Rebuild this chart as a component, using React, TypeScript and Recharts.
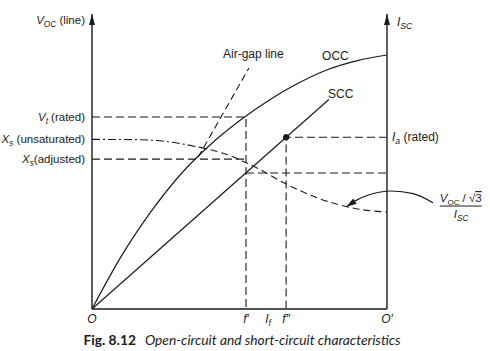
import React from 'react';
import { ComposedChart, Line, XAxis, YAxis, ReferenceLine, ReferenceDot } from 'recharts';

// field current on x (O = 0, O' = 100), voltage / current on y (0..100 = axis top)
const occ = [
  { x: 0, y: 0 }, { x: 10, y: 18 }, { x: 20, y: 33 }, { x: 30, y: 45.6 }, { x: 40, y: 55.6 },
  { x: 50, y: 63.8 }, { x: 60, y: 70.8 }, { x: 70, y: 76.6 }, { x: 80, y: 81.2 },
  { x: 90, y: 84.2 }, { x: 100, y: 86.1 },
];
const airGap = [{ x: 36, y: 51.5 }, { x: 53.2, y: 81.7 }];
const scc = [{ x: 0, y: 0 }, { x: 80.3, y: 71 }];
const ratedPoint = [{ x: 65.8, y: 58.2 }];

// Voc/sqrt3 / Isc curve: dash-dot part, then dashed part
const xsUnsat = [{ x: 0, y: 57.5 }, { x: 15, y: 57.4 }, { x: 25, y: 56.8 }, { x: 36.6, y: 54.8 }];
const xsTail = [
  { x: 36.6, y: 54.8 }, { x: 45, y: 52.6 }, { x: 55, y: 48.3 }, { x: 65, y: 42.8 },
  { x: 75, y: 38.2 }, { x: 85, y: 35 }, { x: 92, y: 33.6 }, { x: 100, y: 32.9 },
];

const vtRated = [{ x: 0, y: 65.1 }, { x: 52.2, y: 65.1 }, { x: 52.2, y: 0 }];
const xsAdjusted = [{ x: 0, y: 50.8 }, { x: 52.2, y: 50.8 }];
const sccAtF1 = [{ x: 52.2, y: 46.1 }, { x: 100, y: 46.1 }];
const iaRated = [{ x: 100, y: 58.2 }, { x: 65.8, y: 58.2 }, { x: 65.8, y: 0 }];
const pointer = [
  { x: 86.3, y: 34.7 }, { x: 89.7, y: 36.9 }, { x: 94.2, y: 38.8 },
  { x: 101.4, y: 40 }, { x: 108.9, y: 39.1 }, { x: 115.6, y: 36 },
];

type Rich = { main: string; sub?: string; rest?: string };

const xTicks = [0, 52.2, 59.7, 65.8, 100];
const xTickLabels: Rich[] = [
  { main: 'O' }, { main: 'f′' }, { main: 'I', sub: 'f' }, { main: 'f″' }, { main: 'O′' },
];
const yTicks = [65.1, 57.5, 50.8];
const yTickLabels: Rich[] = [
  { main: 'V', sub: 't', rest: ' (rated)' },
  { main: 'X', sub: 's', rest: ' (unsaturated)' },
  { main: 'X', sub: 's', rest: '(adjusted)' },
];

const INK = '#1b1b1b';
const SANS = '"Liberation Sans", Arial, sans-serif';

function RichText({ x, y, t, anchor = 'start', size = 11.5 }: { x: number; y: number; t: Rich; anchor?: string; size?: number }) {
  return (
    <text x={x} y={y} textAnchor={anchor as any} fontSize={size} fontFamily={SANS} fill={INK}>
      <tspan fontStyle="italic">{t.main}</tspan>
      {t.sub ? <tspan fontStyle="italic" fontSize={size * 0.72} dy={3}>{t.sub}</tspan> : null}
      {t.rest ? <tspan dy={t.sub ? -3 : 0}>{t.rest}</tspan> : null}
    </text>
  );
}

const YTick = (p: any) => {
  const i = yTicks.indexOf(p.payload.value);
  return <RichText x={p.x} y={p.y + 4} t={yTickLabels[i]} anchor="end" />;
};

const XTick = (p: any) => {
  const i = xTicks.indexOf(p.payload.value);
  return <RichText x={p.x} y={p.y + 14} t={xTickLabels[i]} anchor="middle" size={12} />;
};

const UpArrow = (p: any) => (
  <polygon points={`${p.cx},${p.cy} ${p.cx - 3},${p.cy + 11} ${p.cx + 3},${p.cy + 11}`} fill={INK} />
);

const pointerDot = (p: any) =>
  p.index === 0 ? (
    <polygon key="tip" points="0,0 -10,-3.2 -10,3.2" transform={`translate(${p.cx},${p.cy}) rotate(146)`} fill={INK} />
  ) : (
    <g key={p.index} />
  );

const label = (t: Rich, dx: number, dy: number, size = 12) => (p: any) => (
  <RichText x={p.cx + dx} y={p.cy + dy} t={t} size={size} />
);

const plain = (text: string, dx: number, dy: number) => (p: any) => (
  <text x={p.cx + dx} y={p.cy + dy} fontSize={12} fontFamily={SANS} fill={INK}>{text}</text>
);

const fraction = (p: any) => (
  <g>
    <text x={p.cx} y={p.cy - 4} textAnchor="middle" fontSize={11.5} fontFamily={SANS} fill={INK}>
      <tspan fontStyle="italic">V</tspan>
      <tspan fontSize={8} dy={3}>OC</tspan>
      <tspan dy={-3}> / √</tspan>
      <tspan style={{ textDecoration: 'overline' }}>3</tspan>
    </text>
    <line x1={p.cx - 21} x2={p.cx + 21} y1={p.cy} y2={p.cy} stroke={INK} strokeWidth={1} />
    <RichText x={p.cx - 7} y={p.cy + 12} t={{ main: 'I', sub: 'SC' }} />
  </g>
);

const Caption = (p: any) => {
  const vb = p.viewBox;
  return (
    <text x={vb.x + 150} y={vb.y + 36} textAnchor="middle" fontSize={13.8} fontFamily="Lato, sans-serif" fill={INK}>
      <tspan fontWeight="bold">Fig. 8.12</tspan>
      <tspan fontStyle="italic" dx={9}>Open-circuit and short-circuit characteristics</tspan>
    </text>
  );
};

const VocLabel = (p: any) => {
  const vb = p.viewBox;
  return <RichText x={vb.x + vb.width - 7} y={vb.y + 10} t={{ main: 'V', sub: 'OC', rest: ' (line)' }} anchor="end" />;
};

const dashed = { stroke: INK, strokeWidth: 1.1, strokeDasharray: '8 4', dot: false, activeDot: false, isAnimationActive: false } as const;

export default function App() {
  return (
    <div style={{ position: 'absolute', left: 0, top: 0, background: '#fff' }}>
      <ComposedChart width={490} height={351} margin={{ top: 14, right: 0, bottom: 0, left: 0 }}>
        <XAxis
          type="number"
          dataKey="x"
          domain={[0, 134.92]}
          ticks={xTicks}
          interval={0}
          tick={XTick}
          tickLine={false}
          tickSize={0}
          tickMargin={0}
          axisLine={false}
          height={42}
          label={{ content: Caption }}
        />
        <YAxis
          type="number"
          dataKey="y"
          domain={[0, 100]}
          ticks={yTicks}
          interval={0}
          tick={YTick}
          tickLine={false}
          tickSize={0}
          tickMargin={7}
          axisLine={{ stroke: INK, strokeWidth: 1.4 }}
          width={92}
          label={{ content: VocLabel }}
        />

        <ReferenceLine segment={[{ x: 0, y: 0 }, { x: 100, y: 0 }]} stroke={INK} strokeWidth={1.4} ifOverflow="visible" />
        <ReferenceLine segment={[{ x: 100, y: 0 }, { x: 100, y: 100 }]} stroke={INK} strokeWidth={1.4} ifOverflow="visible" />
        <ReferenceDot x={0} y={100} shape={UpArrow} ifOverflow="visible" />
        <ReferenceDot x={100} y={100} shape={UpArrow} ifOverflow="visible" />

        <Line data={vtRated} dataKey="y" type="linear" {...dashed} />
        <Line data={xsAdjusted} dataKey="y" type="linear" {...dashed} />
        <Line data={sccAtF1} dataKey="y" type="linear" {...dashed} />
        <Line data={iaRated} dataKey="y" type="linear" {...dashed} />
        <Line data={airGap} dataKey="y" type="linear" {...dashed} strokeDasharray="7 4" />
        <Line data={xsUnsat} dataKey="y" type="monotone" {...dashed} strokeDasharray="8 3 2 3" />
        <Line data={xsTail} dataKey="y" type="monotone" {...dashed} strokeDasharray="7 4" />

        <Line data={occ} dataKey="y" type="monotone" stroke={INK} strokeWidth={1.2} dot={false} activeDot={false} isAnimationActive={false} />
        <Line data={scc} dataKey="y" type="linear" stroke={INK} strokeWidth={1.2} dot={false} activeDot={false} isAnimationActive={false} />
        <Line data={ratedPoint} dataKey="y" stroke="none" dot={{ r: 2.8, fill: INK, stroke: INK }} activeDot={false} isAnimationActive={false} />
        <Line data={pointer} dataKey="y" type="monotone" stroke={INK} strokeWidth={1.2} dot={pointerDot} activeDot={false} isAnimationActive={false} />

        <ReferenceDot x={100} y={100} shape={label({ main: 'I', sub: 'SC' }, 10, 12)} ifOverflow="visible" />
        <ReferenceDot x={100} y={58.2} shape={label({ main: 'I', sub: 'a', rest: ' (rated)' }, 5, 4)} ifOverflow="visible" />
        <ReferenceDot x={44.4} y={85.1} shape={plain('Air-gap line', 0, 0)} ifOverflow="visible" />
        <ReferenceDot x={78} y={84.4} shape={plain('OCC', 0, 0)} ifOverflow="visible" />
        <ReferenceDot x={80} y={71.5} shape={plain('SCC', 0, 0)} ifOverflow="visible" />
        <ReferenceDot x={125} y={34.9} shape={fraction} ifOverflow="visible" />
      </ComposedChart>
    </div>
  );
}
